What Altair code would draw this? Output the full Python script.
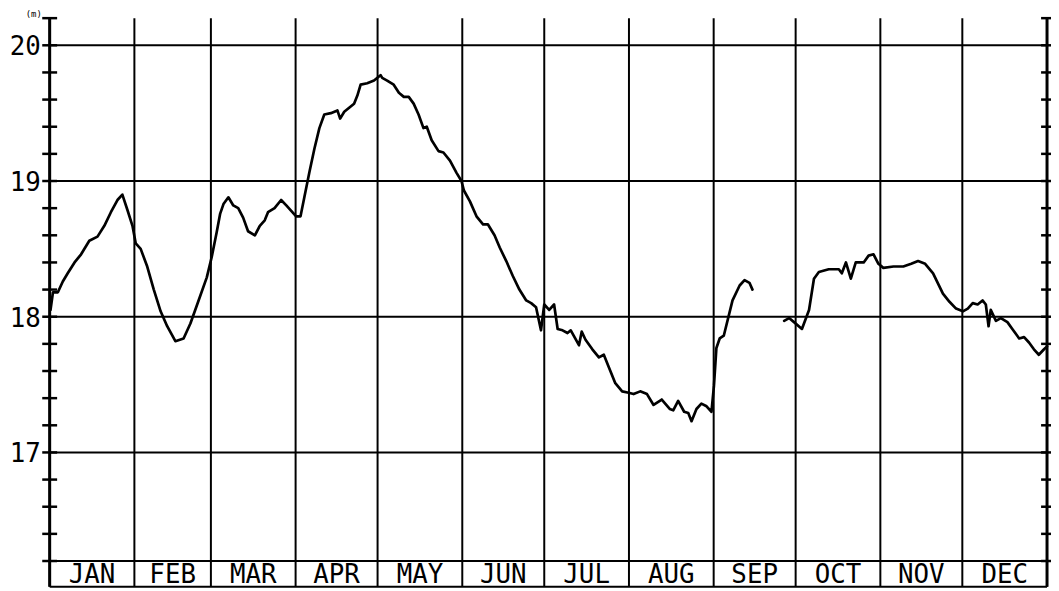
import altair as alt
import pandas as pd

# ---- data ----
MONTHS = ["JAN", "FEB", "MAR", "APR", "MAY", "JUN", "JUL", "AUG", "SEP", "OCT", "NOV", "DEC"]
MONTH_EDGES = [0, 31, 59, 90, 120, 151, 181, 212, 243, 273, 304, 334, 365]
GRID_VALUES = [17, 18, 19, 20]
Y_LABELS = ["17", "18", "19", "20"]
MINOR_TICKS = [16.2, 16.4, 16.6, 16.8, 17.0, 17.2, 17.4, 17.6, 17.8, 18.0,
               18.2, 18.4, 18.6, 18.8, 19.0, 19.2, 19.4, 19.6, 19.8, 20.0, 20.2]

# first stretch (Jan - mid Sep)
DAYS_A = [0.3, 1.2, 3.0, 4.8, 6.6, 9.1, 11.5, 14.5, 17.5, 20.0, 22.4, 24.8, 26.6, 28.4, 30.3,
          31.5, 33.3, 35.7, 38.1, 40.6, 43.0, 46.0, 49.0, 51.5, 54.5, 57.5, 59.3, 61.1, 62.4,
          63.6, 65.4, 67.2, 69.0, 70.8, 72.6, 75.1, 76.9, 78.7, 79.9, 82.3, 84.7, 86.6, 88.4,
          90.2, 91.8, 93.2, 95.1, 96.9, 98.7, 100.5, 102.9, 105.3, 106.3, 107.8, 109.6, 111.4,
          112.6, 113.8, 116.2, 118.7, 120.5, 121.1, 121.7, 123.5, 125.9, 127.8, 129.6, 131.4,
          133.2, 135.0, 136.8, 138.0, 139.8, 142.3, 144.1, 146.5, 148.9, 150.7, 151.6, 153.8,
          156.2, 158.6, 160.4, 162.8, 164.7, 167.1, 169.5, 171.9, 174.4, 176.2, 178.0, 179.8,
          181.0, 182.8, 184.6, 185.9, 187.7, 189.5, 190.7, 193.7, 194.7, 196.1, 198.6, 201.0,
          202.8, 204.6, 207.0, 209.5, 211.9, 213.7, 216.1, 218.6, 221.0, 224.0, 227.0, 228.2,
          230.0, 232.2, 233.7, 234.9, 236.7, 238.5, 240.4, 242.2, 243.1, 244.0, 245.2, 246.7,
          249.9, 252.5, 254.3, 256.1, 257.2]
VALS_A = [18.05, 18.18, 18.18, 18.26, 18.32, 18.40, 18.46, 18.56, 18.59, 18.67, 18.77, 18.86,
          18.90, 18.79, 18.67, 18.54, 18.50, 18.37, 18.20, 18.04, 17.93, 17.82, 17.84, 17.95,
          18.12, 18.29, 18.44, 18.62, 18.76, 18.83, 18.88, 18.82, 18.80, 18.73, 18.63, 18.60,
          18.67, 18.71, 18.77, 18.80, 18.86, 18.82, 18.78, 18.74, 18.74, 18.88, 19.07, 19.24,
          19.39, 19.49, 19.50, 19.52, 19.46, 19.51, 19.54, 19.57, 19.63, 19.71, 19.72, 19.74,
          19.77, 19.78, 19.76, 19.74, 19.71, 19.65, 19.62, 19.62, 19.57, 19.49, 19.39, 19.40,
          19.30, 19.22, 19.21, 19.15, 19.06, 19.00, 18.93, 18.85, 18.74, 18.68, 18.68, 18.60,
          18.51, 18.41, 18.30, 18.20, 18.12, 18.10, 18.07, 17.90, 18.09, 18.05, 18.09, 17.91,
          17.90, 17.88, 17.90, 17.79, 17.89, 17.83, 17.76, 17.70, 17.72, 17.63, 17.51, 17.45,
          17.44, 17.43, 17.45, 17.43, 17.35, 17.39, 17.32, 17.31, 17.38, 17.30, 17.29, 17.23,
          17.32, 17.36, 17.34, 17.30, 17.49, 17.77, 17.84, 17.86, 18.12, 18.23, 18.27, 18.25,
          18.20]

# second stretch (late Sep - Dec)
DAYS_B = [268.8, 270.6, 272.4, 275.3, 277.9, 279.7, 281.5, 285.1, 288.8, 289.9, 291.4, 293.2,
          295.0, 297.9, 299.7, 301.5, 303.3, 305.1, 308.8, 312.4, 315.3, 317.8, 320.4, 323.3,
          326.9, 329.3, 331.7, 334.2, 336.0, 337.8, 339.6, 341.4, 342.6, 343.6, 344.4, 346.3,
          348.1, 350.5, 352.3, 354.8, 356.6, 358.4, 360.2, 362.0, 363.9, 365.0]
VALS_B = [17.97, 17.99, 17.96, 17.91, 18.05, 18.28, 18.33, 18.35, 18.35, 18.32, 18.40, 18.28,
          18.40, 18.40, 18.45, 18.46, 18.39, 18.36, 18.37, 18.37, 18.39, 18.41, 18.39, 18.32,
          18.17, 18.11, 18.06, 18.04, 18.06, 18.10, 18.09, 18.12, 18.09, 17.93, 18.05, 17.97,
          17.99, 17.96, 17.91, 17.84, 17.85, 17.81, 17.76, 17.72, 17.76, 17.78]

Y_TOP = 20.2
Y_PLOT_BOTTOM = 16.2
Y_BOX_BOTTOM = 16.01
FONT = "DejaVu Sans Mono"

# ---- tables ----
line_df = pd.concat([
    pd.DataFrame({"day": DAYS_A, "val": VALS_A, "seg": "a"}),
    pd.DataFrame({"day": DAYS_B, "val": VALS_B, "seg": "b"}),
])
vrule_df = pd.DataFrame({"day": MONTH_EDGES, "val": Y_BOX_BOTTOM, "val2": Y_TOP})
hrule_df = pd.DataFrame({"day": 0, "day2": 365,
                         "val": GRID_VALUES + [Y_PLOT_BOTTOM, Y_BOX_BOTTOM]})
tick_df = pd.DataFrame({"val": MINOR_TICKS, "day": 0})
rtick_df = pd.DataFrame({"val": MINOR_TICKS, "day": 365})
ylab_df = pd.DataFrame({"val": GRID_VALUES, "label": Y_LABELS, "day": 0})
mid = [(MONTH_EDGES[i] + MONTH_EDGES[i + 1]) / 2 for i in range(12)]
mlab_df = pd.DataFrame({"day": mid, "label": MONTHS,
                        "val": (Y_PLOT_BOTTOM + Y_BOX_BOTTOM) / 2})
unit_df = pd.DataFrame({"day": [0], "val": [Y_TOP], "label": ["(m)"]})

xs = alt.Scale(domain=[0, 365], nice=False, zero=False)
ys = alt.Scale(domain=[Y_BOX_BOTTOM, Y_TOP], nice=False, zero=False)
X = alt.X("day:Q", scale=xs, axis=None)
Y = alt.Y("val:Q", scale=ys, axis=None)

vrules = alt.Chart(vrule_df).mark_rule(color="black", strokeWidth=2).encode(
    x=X, y=Y, y2="val2:Q")
hrules = alt.Chart(hrule_df).mark_rule(color="black", strokeWidth=2).encode(
    x=X, x2="day2:Q", y=Y)
lticks = alt.Chart(tick_df).mark_tick(color="black", orient="horizontal",
                                      size=15, thickness=2.5, opacity=1).encode(x=X, y=Y)
rticks = alt.Chart(rtick_df).mark_tick(color="black", orient="horizontal",
                                       size=12, thickness=2.5, opacity=1).encode(x=X, y=Y)
axes = alt.Chart(vrule_df[vrule_df["day"].isin([0, 365])]).mark_rule(
    color="black", strokeWidth=3).encode(x=X, y=Y, y2="val2:Q")
ylabels = alt.Chart(ylab_df).mark_text(font=FONT, fontSize=26, align="right",
                                       baseline="middle", dx=-9, dy=2,
                                       color="black").encode(x=X, y=Y, text="label:N")
mlabels = alt.Chart(mlab_df).mark_text(font=FONT, fontSize=26, align="center",
                                       baseline="middle", dy=1,
                                       color="black").encode(x=X, y=Y, text="label:N")
unit = alt.Chart(unit_df).mark_text(font=FONT, fontSize=9, align="center",
                                    baseline="alphabetic", dx=-16, dy=-1,
                                    color="black").encode(x=X, y=Y, text="label:N")
curve = alt.Chart(line_df).mark_line(color="black", strokeWidth=2.7,
                                     strokeJoin="round", strokeCap="round").encode(
    x=X, y=Y, detail="seg:N", order="day:Q")

chart = alt.layer(vrules, hrules, axes, lticks, rticks, curve, ylabels, mlabels, unit).properties(
    width=1005, height=573,
    autosize=alt.AutoSizeParams(type="none"),
    padding={"left": 42, "top": 8, "right": 4, "bottom": 2},
    background="white",
).configure_view(stroke=None)

chart.save("out.html", embed_options={"renderer": "svg", "actions": False})
